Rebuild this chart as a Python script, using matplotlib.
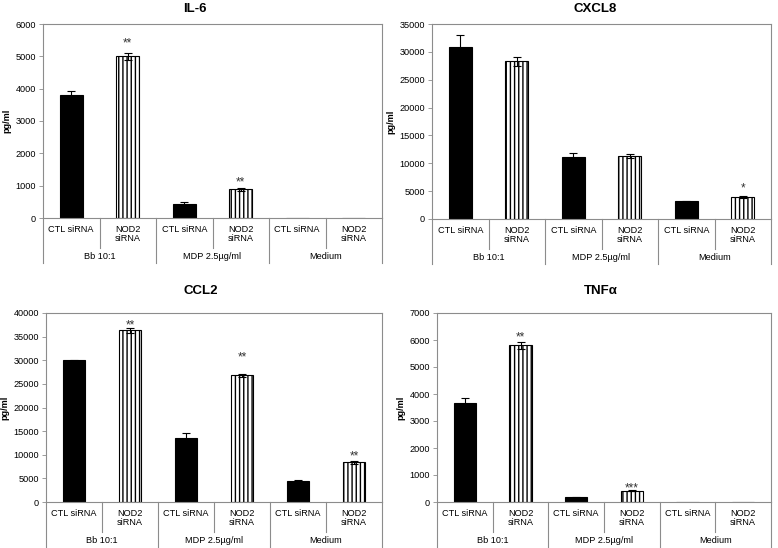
import matplotlib
matplotlib.use('Agg')
import matplotlib.pyplot as plt
import numpy as np

plt.rcParams['font.family'] = ['Liberation Sans', 'DejaVu Sans']

cats = ['CTL siRNA', 'NOD2\nsiRNA'] * 3
groups = ['Bb 10:1', 'MDP 2.5µg/ml', 'Medium']

il6 = [3800, 5000, 420, 890, 0, 0]
il6_err = [130, 100, 70, 40, 0, 0]
il6_sig = ['', '**', '', '**', '', '']
il6_sig_y = [0, 5500, 0, 1210, 0, 0]

cxcl8 = [30800, 28300, 11200, 11300, 3200, 4000]
cxcl8_err = [2200, 800, 700, 300, 100, 200]
cxcl8_sig = ['', '', '', '', '', '*']
cxcl8_sig_y = [0, 0, 0, 0, 0, 6100]

ccl2 = [30000, 36300, 13600, 26800, 4500, 8400]
ccl2_err = [100, 600, 900, 300, 100, 300]
ccl2_sig = ['', '**', '', '**', '', '**']
ccl2_sig_y = [0, 38100, 0, 31300, 0, 10400]

tnf = [3680, 5800, 180, 420, 0, 0]
tnf_err = [180, 120, 20, 20, 0, 0]
tnf_sig = ['', '**', '', '***', '', '']
tnf_sig_y = [0, 6220, 0, 630, 0, 0]

panels = [
    ('IL-6', il6, il6_err, il6_sig, il6_sig_y, 6000, 1000, [43, 24, 382, 218], (195, 8)),
    ('CXCL8', cxcl8, cxcl8_err, cxcl8_sig, cxcl8_sig_y, 35000, 5000, [432, 24, 771, 219], (595, 8)),
    ('CCL2', ccl2, ccl2_err, ccl2_sig, ccl2_sig_y, 40000, 5000, [46, 313, 382, 502], (201, 290)),
    ('TNFα', tnf, tnf_err, tnf_sig, tnf_sig_y, 7000, 1000, [437, 313, 771, 502], (601, 290)),
]

W, H = 778, 548
fig = plt.figure(figsize=(W / 100, H / 100), dpi=100)
grey = '#8c8c8c'

for title, vals, errs, sig, sig_y, ymax, step, box, tpos in panels:
    x0, y0, x1, y1 = box
    ax = fig.add_axes([x0 / W, (H - y1) / H, (x1 - x0) / W, (y1 - y0) / H])
    hpx = y1 - y0
    x = np.arange(6)
    for i in range(6):
        if i % 2 == 0:
            ax.bar(x[i], vals[i], 0.4, color='black', edgecolor='black', linewidth=0.8)
        else:
            ax.bar(x[i], vals[i], 0.4, color='white', edgecolor='black', linewidth=0.8, hatch='||||')
        if vals[i] > 0:
            ax.errorbar(x[i], vals[i], yerr=errs[i], color='black', capsize=3, elinewidth=0.8, capthick=0.8)
        if sig[i]:
            ax.annotate(sig[i], (x[i], sig_y[i]), xytext=(0, -4.8), textcoords='offset points',
                        ha='center', va='baseline', fontsize=8.5, color='#333333')
    ax.set_xlim(-0.5, 5.5)
    ax.set_ylim(0, ymax)
    ax.set_yticks(np.arange(0, ymax + 1, step))
    ax.set_xticks([])
    ax.tick_params(axis='y', labelsize=6.6, length=3, width=0.6, color=grey, pad=2)
    for s in ax.spines.values():
        s.set_color(grey)
        s.set_linewidth(0.8)
    ax.set_ylabel('pg/ml', fontsize=6.6, fontweight='bold', labelpad=3)
    fig.text(tpos[0] / W, 1 - (tpos[1] + 4.5) / H, title, fontsize=9.5, fontweight='bold',
             ha='center', va='baseline')

    # category axis labels
    for i in range(6):
        ax.annotate(cats[i], (x[i], 0), xycoords=('data', 'axes fraction'), xytext=(0, -4.8),
                    textcoords='offset points', ha='center', va='top', fontsize=6.6, linespacing=1.05)
    for g in range(3):
        ax.annotate(groups[g], (2 * g + 0.5, 0), xycoords=('data', 'axes fraction'), xytext=(0, -28),
                    textcoords='offset points', ha='center', va='center', fontsize=6.6)
    for b in [-0.5, 0.5, 1.5, 2.5, 3.5, 4.5, 5.5]:
        long = b in (-0.5, 1.5, 3.5, 5.5)
        depth = (45 if long else 30) / hpx
        ax.plot([b, b], [0, -depth], color=grey, lw=0.8, clip_on=False,
                transform=ax.get_xaxis_transform())

fig.savefig('out.png', dpi=100, facecolor='white')
